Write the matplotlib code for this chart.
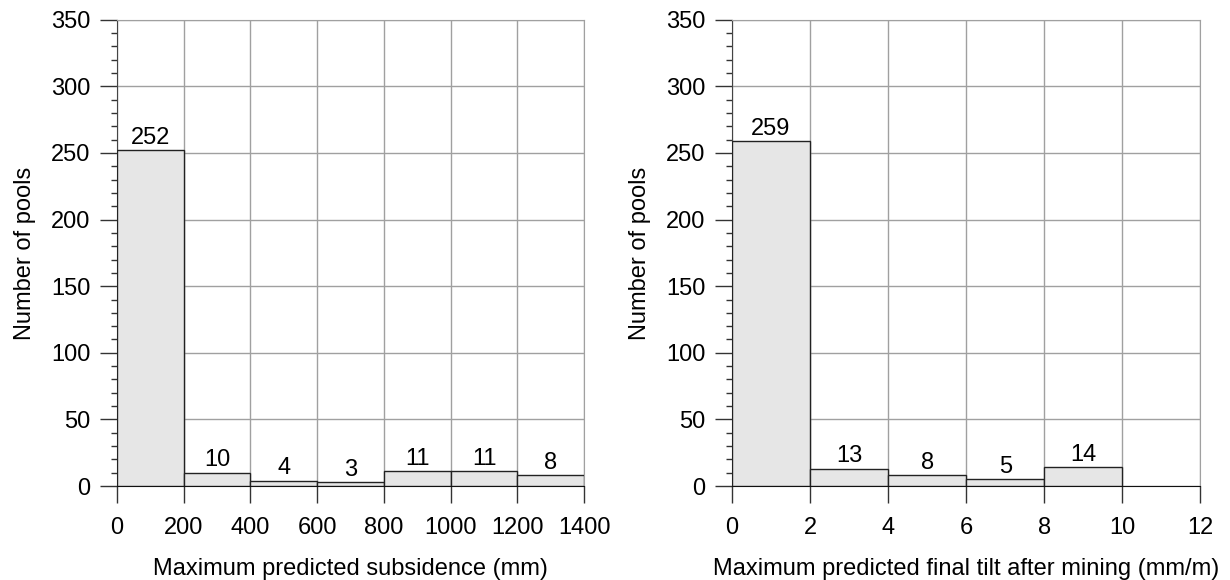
import numpy as np
import matplotlib.pyplot as plt
from matplotlib.ticker import MultipleLocator

plt.rcParams['font.family'] = ['Liberation Sans', 'DejaVu Sans']

# Data
# ----
subs_edges = [0, 200, 400, 600, 800, 1000, 1200, 1400]
subs_counts = [252, 10, 4, 3, 11, 11, 8]

tilt_edges = [0, 2, 4, 6, 8, 10]
tilt_counts = [259, 13, 8, 5, 14]

xlabels = ['Maximum predicted subsidence (mm)',
           'Maximum predicted final tilt after mining (mm/m)']
xlims = [(0, 1400), (0, 12)]
xsteps = [200, 2]


def draw_hist(ax, edges, counts, xlabel, xlim, xstep):
    edges = np.asarray(edges, dtype=float)
    widths = np.diff(edges)
    ax.bar(edges[:-1], counts, width=widths, align='edge', color='#e6e6e6',
           edgecolor='#222222', linewidth=1.0, zorder=3)
    for x0, w, c in zip(edges[:-1], widths, counts):
        ax.text(x0 + w / 2, c + 1, str(c), ha='center', va='bottom', fontsize=17, zorder=4)

    ax.set_xlim(*xlim)
    ax.set_ylim(0, 350)
    ax.xaxis.set_major_locator(MultipleLocator(xstep))
    ax.yaxis.set_major_locator(MultipleLocator(50))
    ax.yaxis.set_minor_locator(MultipleLocator(10))
    ax.grid(True, which='major', color='#a0a0a0', linewidth=1.0, zorder=0)
    ax.tick_params(axis='both', which='major', direction='out', length=12, width=1.0,
                   labelsize=17, pad=7, color='#333333')
    ax.tick_params(axis='x', which='major', pad=10)
    ax.tick_params(axis='y', which='minor', direction='out', length=4, width=1.0,
                   color='#333333')
    ax.spines['top'].set_color('#a0a0a0')
    ax.spines['right'].set_color('#a0a0a0')
    ax.spines['left'].set_color('#444444')
    ax.spines['bottom'].set_color('#111111')
    ax.set_axisbelow(True)
    ax.set_xlabel(xlabel, fontsize=17, labelpad=14)
    ax.set_ylabel('Number of pools', fontsize=17, labelpad=11)


fig = plt.figure(figsize=(12.3, 5.8), dpi=100)
ax1 = fig.add_axes([0.095, 0.162, 0.380, 0.804])
ax2 = fig.add_axes([0.595, 0.162, 0.381, 0.804])

draw_hist(ax1, subs_edges, subs_counts, xlabels[0], xlims[0], xsteps[0])
draw_hist(ax2, tilt_edges, tilt_counts, xlabels[1], xlims[1], xsteps[1])

fig.savefig('out.png', dpi=100)
plt.close('all')
